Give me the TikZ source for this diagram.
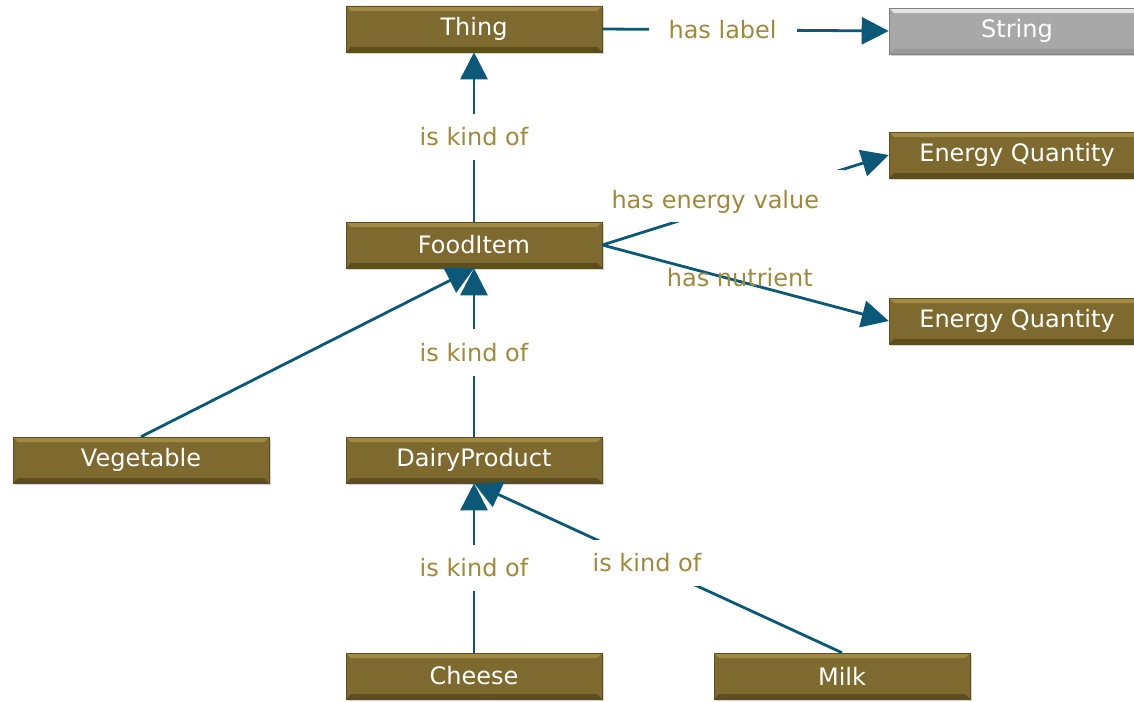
\documentclass[tikz,border=0pt]{standalone}
\usepackage{fontspec}
\setmainfont{DejaVu Sans}
\usetikzlibrary{arrows.meta,shadows,positioning}
\definecolor{olive}{HTML}{7E6A2E}
\definecolor{olivetop}{HTML}{A08A45}
\definecolor{olivebot}{HTML}{5E4E1E}
\definecolor{greybox}{HTML}{A8A8A8}
\definecolor{edgeblue}{HTML}{0B5878}
\definecolor{lblgold}{HTML}{A08A3A}

\begin{document}
\begin{tikzpicture}
[x=1pt,y=-1pt,
class/.style={shape=rectangle,fill=olive,draw=olivebot,line width=.6pt,
  minimum width=256pt,minimum height=46pt,inner sep=0pt,
  text=white,font=\fontsize{24}{28}\selectfont,
  drop shadow={shadow xshift=2pt,shadow yshift=-2pt,opacity=.35},
  path picture={
    \fill[olivetop] (path picture bounding box.north west) -- (path picture bounding box.north east)
      -- ([xshift=-5pt,yshift=-5pt]path picture bounding box.north east) -- ([xshift=5pt,yshift=-5pt]path picture bounding box.north west) -- cycle;
    \fill[olivebot] (path picture bounding box.south west) -- (path picture bounding box.south east)
      -- ([xshift=-5pt,yshift=5pt]path picture bounding box.south east) -- ([xshift=5pt,yshift=5pt]path picture bounding box.south west) -- cycle;}},
literal/.style={class,fill=greybox,draw=gray,
  path picture={
    \fill[gray!20] (path picture bounding box.north west) -- (path picture bounding box.north east)
      -- ([xshift=-5pt,yshift=-5pt]path picture bounding box.north east) -- ([xshift=5pt,yshift=-5pt]path picture bounding box.north west) -- cycle;
    \fill[gray!80] (path picture bounding box.south west) -- (path picture bounding box.south east)
      -- ([xshift=-5pt,yshift=5pt]path picture bounding box.south east) -- ([xshift=5pt,yshift=5pt]path picture bounding box.south west) -- cycle;}},
rel/.style={draw=edgeblue,line width=2.8pt,-{Triangle[length=27pt,width=27pt]}},
lbl/.style={text=lblgold,font=\fontsize{24}{28}\selectfont},
gaplbl/.style={lbl,fill=white,inner xsep=20pt,inner ysep=14pt}]

\useasboundingbox (0,0) rectangle (1134,701);

% classes
\node[class] (thing) at (474,29) {Thing};
\node[literal] (string) at (1017,31) {String};
\node[class] (energy) at (1017,155) {Energy Quantity};
\node[class] (nutrient) at (1017,321) {Energy Quantity};
\node[class] (food) at (474,245) {FoodItem};
\node[class] (veg) at (141,460) {Vegetable};
\node[class] (dairy) at (474,460) {DairyProduct};
\node[class] (cheese) at (474,676) {Cheese};
\node[class] (milk) at (842,676) {Milk};

% properties
\draw[rel] (thing.east) -- (string.west) node[pos=.42,gaplbl] {has label};
\draw[rel] (food.east) -- (energy.west) node[pos=.5,xshift=-20pt,yshift=4pt,gaplbl,
  inner xsep=4pt,inner ysep=4pt,text width=228pt,align=left,text height=34pt,text depth=10pt] {has energy value};
\draw[rel] (food.east) -- (nutrient.west) node[pos=.48,yshift=4pt,lbl] {has nutrient};

% subclass links
\draw[rel] (food) -- (thing) node[midway,gaplbl] {is kind of};
\draw[rel] (veg.north) -- (food.south);
\draw[rel] (dairy) -- (food) node[midway,gaplbl] {is kind of};
\draw[rel] (cheese) -- (dairy) node[midway,gaplbl] {is kind of};
\draw[rel] (milk.north) -- (dairy.south) node[pos=.53,gaplbl] {is kind of};
\end{tikzpicture}
\end{document}
